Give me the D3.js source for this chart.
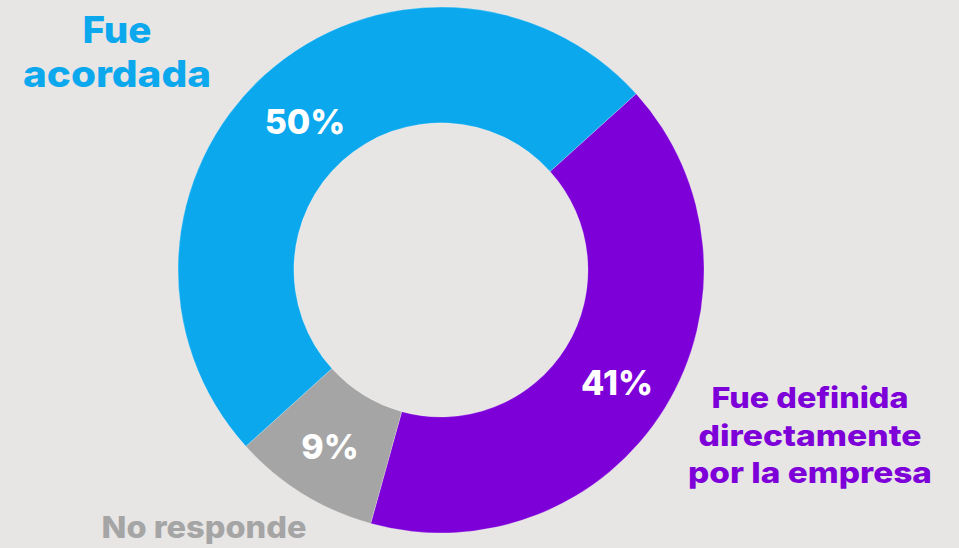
<!DOCTYPE html>
<html><head><meta charset="utf-8">
<script src="https://cdn.jsdelivr.net/npm/d3@7"></script>
<style>html,body{margin:0;padding:0;background:#e8e6e5;overflow:hidden}</style>
</head><body>
<svg id="c" width="959" height="548"></svg>
<script>
const categories = ["Fue definida directamente por la empresa", "No responde", "Fue acordada"];
const values = [41, 9, 50];
const pctLabels = ["41%", "9%", "50%"];
const colors = ["#7d00d8", "#a5a5a5", "#0ba8ee"];
const catLines = [["Fue definida", "directamente", "por la empresa"], ["No responde"], ["Fue", "acordada"]];

const svg = d3.select("#c");
const cx = 441, cy = 270, rO = 263, rI = 147;
const start = 47.9 * Math.PI / 180;
const pie = d3.pie().sort(null).value(d => d).startAngle(start).endAngle(start + 2 * Math.PI);
const arcs = pie(values);
const arc = d3.arc().innerRadius(rI).outerRadius(rO);
const g = svg.append("g").attr("transform", `translate(${cx},${cy})`);
g.selectAll("path").data(arcs).join("path")
  .attr("d", arc).attr("fill", (d, i) => colors[i])
  .attr("stroke", "#ffffff").attr("stroke-width", 0.4).attr("stroke-opacity", 0.6);

const font = "Inter, 'Open Sans', sans-serif";
const labelPos = [[617, 383], [330, 447], [305, 122]];
g.selectAll("text.p").data(arcs).join("text")
  .attr("class", "p")
  .attr("x", (d, i) => labelPos[i][0] - cx)
  .attr("y", (d, i) => labelPos[i][1] - cy)
  .attr("dy", "0.36em")
  .attr("text-anchor", "middle")
  .attr("font-family", font).attr("font-weight", 800).attr("font-size", 34)
  .attr("fill", "#ffffff")
  .text((d, i) => pctLabels[i]);

// layout: [centerX, firstBaseline, lineStep, fontSize, lineWidths]
const catLayout = [
  [810, 408, 37.5, 29, [197, 223, 244]],
  [204, 538, 0, 30, [205]],
  [117, 43, 44, 37, [69, 188]]
];
catLines.forEach((lines, i) => {
  const [x, y0, step, fs, widths] = catLayout[i];
  const t = svg.append("text")
    .attr("text-anchor", "middle")
    .attr("font-family", font).attr("font-weight", 800).attr("font-size", fs)
    .attr("fill", colors[i]);
  lines.forEach((l, j) => {
    t.append("tspan").attr("x", x).attr("y", y0 + j * step)
      .attr("textLength", widths[j]).attr("lengthAdjust", "spacingAndGlyphs")
      .text(l);
  });
});
</script>
</body></html>
